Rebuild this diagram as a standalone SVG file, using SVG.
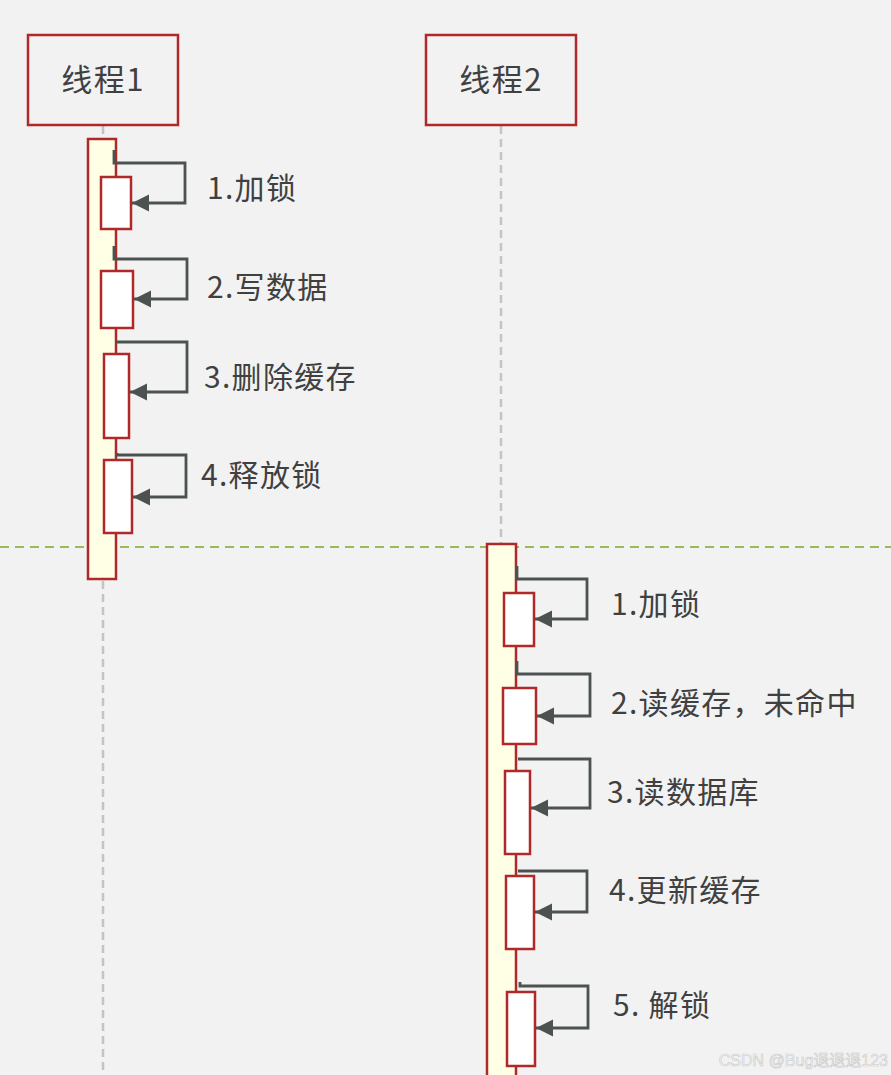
<svg xmlns="http://www.w3.org/2000/svg" width="891" height="1075" viewBox="0 0 891 1075">
<defs>
<style>
.hdr{fill:none;stroke:#b0292a;stroke-width:2.5}
.life{stroke:#c4c4c4;stroke-width:2.5;stroke-dasharray:8,5;fill:none}
.bar{fill:#ffffe6;stroke:#b0292a;stroke-width:2.5}
.box{fill:#ffffff;stroke:#b0292a;stroke-width:2.5}
.msg{fill:none;stroke:#4c5250;stroke-width:2.8;marker-end:url(#ah)}
.t{font-family:"Microsoft YaHei","Noto Sans CJK SC","Noto Sans",sans-serif;fill:#404040;font-size:30px;letter-spacing:1.3px}
.th{font-family:"Microsoft YaHei","Noto Sans CJK SC","Noto Sans",sans-serif;fill:#404040;font-size:31px;letter-spacing:1.5px;text-anchor:middle}
</style>
<marker id="ah" viewBox="0 0 10 10" refX="10" refY="5" markerWidth="6.2" markerHeight="6.2" markerUnits="strokeWidth" orient="auto">
<path d="M0,0 L10,5 L0,10 z" fill="#4c5250"/>
</marker>
</defs>
<rect width="891" height="1075" fill="#f2f2f2"/>
<g id="lifelines">
<line class="life" x1="103" y1="126" x2="103" y2="1075"/>
<line class="life" x1="501" y1="126" x2="501" y2="545"/>
</g>
<line x1="0" y1="547" x2="891" y2="547" stroke="#9bbb59" stroke-width="2" stroke-dasharray="9,6"/>
<g id="thread1">
<rect class="hdr" x="28" y="35" width="150" height="90"/>
<text class="th" x="103" y="91">线程1</text>
</g>
<g id="thread2">
<rect class="hdr" x="426" y="35" width="150" height="90"/>
<text class="th" x="501" y="91">线程2</text>
</g>
<g id="bar1"><rect class="bar" x="88" y="139" width="28" height="440"/></g>
<g id="bar2"><rect class="bar" x="487" y="544" width="29" height="540"/></g>
<g id="t1-boxes">
<rect class="box" x="101" y="177" width="30" height="52"/>
<rect class="box" x="101" y="271" width="32" height="57"/>
<rect class="box" x="104" y="354" width="25" height="84"/>
<rect class="box" x="104" y="460" width="28" height="73"/>
</g>
<g id="t2-boxes">
<rect class="box" x="504" y="593" width="30" height="53"/>
<rect class="box" x="503" y="688" width="33" height="56"/>
<rect class="box" x="505" y="771" width="25" height="83"/>
<rect class="box" x="506" y="876" width="28" height="73"/>
<rect class="box" x="507" y="992" width="28" height="74"/>
</g>
<g id="connectors">
<path class="msg" d="M114,150 V163 H185 V203 H132"/>
<path class="msg" d="M114,246 V259 H187 V299 H134"/>
<path class="msg" d="M116,342 H187 V392 H130"/>
<path class="msg" d="M117,453 V455 H186 V497 H133"/>
<path class="msg" d="M517,566 V579 H587 V619 H535"/>
<path class="msg" d="M517,661 V674 H590 V716 H537"/>
<path class="msg" d="M518,759 H590 V808 H531"/>
<path class="msg" d="M518,871 H587 V912 H535"/>
<path class="msg" d="M520,982 V986 H588 V1028 H536"/>
</g>
<g id="labels">
<text class="t" x="207" y="199">1.加锁</text>
<text class="t" x="207" y="298">2.写数据</text>
<text class="t" x="204" y="388">3.删除缓存</text>
<text class="t" x="201" y="486">4.释放锁</text>
<text class="t" x="611" y="615">1.加锁</text>
<text class="t" x="611" y="714">2.读缓存，未命中</text>
<text class="t" x="607" y="803">3.读数据库</text>
<text class="t" x="609" y="901">4.更新缓存</text>
<text class="t" x="613" y="1016">5. 解锁</text>
</g>
<text x="888" y="1066" font-family="'Liberation Sans','Noto Sans CJK SC',sans-serif" font-size="16" fill="#fafafa" stroke="#c8c8c8" stroke-width="0.6" text-anchor="end">CSDN @Bug退退退123</text>
</svg>
